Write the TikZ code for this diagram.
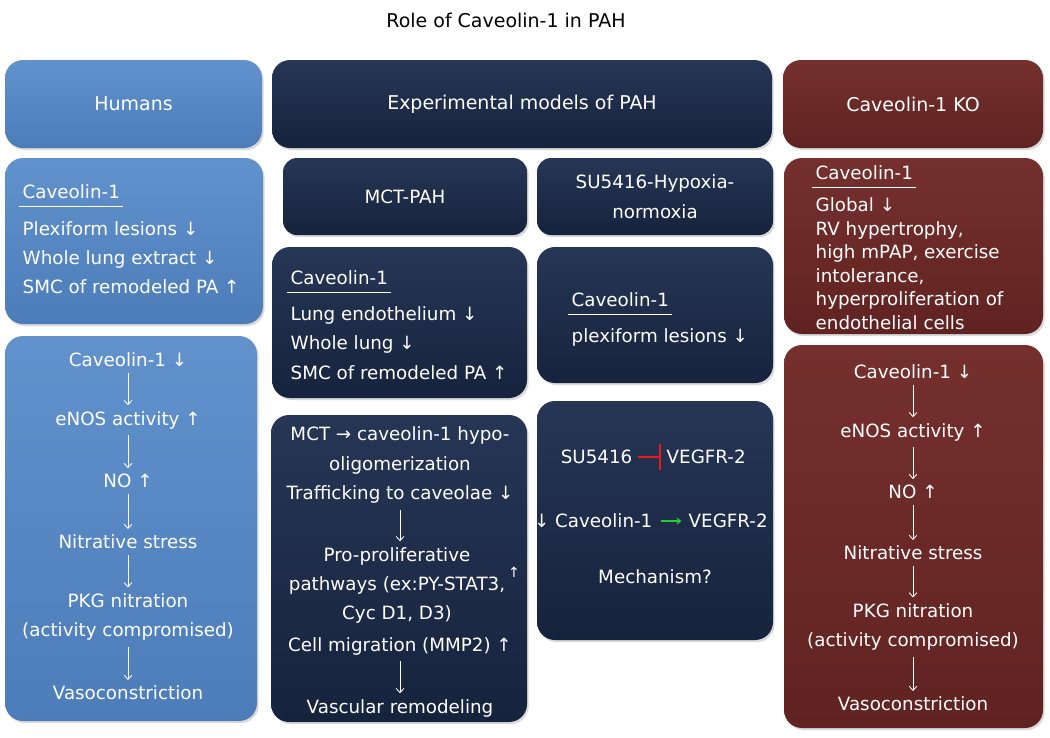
\documentclass[tikz,border=0pt]{standalone}
\usepackage{fontspec}
\setmainfont{DejaVu Sans}
\usetikzlibrary{arrows.meta, positioning, shadows}
\definecolor{humblue}{RGB}{76,125,185}
\definecolor{humtop}{RGB}{98,146,204}
\definecolor{navy}{RGB}{22,35,61}
\definecolor{navytop}{RGB}{38,54,85}
\definecolor{maroon}{RGB}{96,35,33}
\definecolor{maroontop}{RGB}{117,48,46}
\definecolor{inhibit}{RGB}{235,25,25}
\definecolor{activate}{RGB}{40,205,40}
\newlength\pxu
\setlength\pxu{0.025cm}

\begin{document}
\begin{tikzpicture}[x=\pxu, y=-\pxu,
    panel/.style={rounded corners=18\pxu, inner sep=0pt, text=white,
                  drop shadow={shadow xshift=1.2pt, shadow yshift=-1.5pt, opacity=0.3}},
    hpanel/.style={panel, top color=humtop, bottom color=humblue},
    npanel/.style={panel, top color=navytop, bottom color=navy},
    kpanel/.style={panel, top color=maroontop, bottom color=maroon},
    headtxt/.style={font=\fontsize{13.5}{18}\selectfont},
    txt/.style={text=white, inner sep=1pt, font=\fontsize{13}{20.5}\selectfont},
    flow/.style={-{Straight Barb[length=3pt,width=5.5pt]}, white, line width=0.6pt,
                 shorten <=3pt, shorten >=3pt}
]
    \useasboundingbox (0,0) rectangle (1050,737);

    % Title
    \node[font=\fontsize{13.5}{16}\selectfont] (title) at (506,20) {Role of Caveolin-1 in PAH};

    % Column headers
    \node[hpanel, headtxt, minimum width=257\pxu, minimum height=88\pxu] (hhead) at (133.5,104) {Humans};
    \node[npanel, headtxt, minimum width=500\pxu, minimum height=88\pxu] (ehead) at (522,104) {Experimental models of PAH};
    \node[kpanel, headtxt, minimum width=260\pxu, minimum height=88\pxu] (khead) at (913,104) {Caveolin-1 KO};

    % Panels
    \node[hpanel, minimum width=258\pxu, minimum height=166\pxu] (hcavbox) at (134,241) {};
    \node[hpanel, minimum width=252\pxu, minimum height=385\pxu] (hchain) at (131,528.5) {};
    \node[npanel, txt, minimum width=244\pxu, minimum height=77\pxu, rounded corners=14\pxu] (mctbox) at (405,196.5) {MCT-PAH};
    \node[npanel, txt, align=center, minimum width=236\pxu, minimum height=77\pxu, rounded corners=14\pxu,
          font=\fontsize{13}{21}\selectfont] (subox) at (655,196.5) {SU5416-Hypoxia-\\normoxia};
    \node[npanel, minimum width=255\pxu, minimum height=151\pxu] (mcavbox) at (399.5,322.5) {};
    \node[npanel, minimum width=236\pxu, minimum height=136\pxu] (scavbox) at (655,315) {};
    \node[npanel, minimum width=256\pxu, minimum height=307\pxu] (mchain) at (399,568.5) {};
    \node[npanel, minimum width=236\pxu, minimum height=239\pxu] (mechbox) at (655,520.5) {};
    \node[kpanel, minimum width=259\pxu, minimum height=176\pxu] (kcavbox) at (913.5,246) {};
    \node[kpanel, minimum width=259\pxu, minimum height=383\pxu] (kchain) at (913.5,536.5) {};

    % Humans: caveolin-1 findings
    \node[txt, anchor=west] (hcav) at (21,192) {Caveolin-1};
    \draw[white, line width=0.6pt] ([xshift=-1.5pt,yshift=-5.5pt]hcav.base west) -- ([xshift=1pt,yshift=-5.5pt]hcav.base east);
    \node[txt, anchor=west, align=left] (hlist) at (21,258) {Plexiform lesions ↓\\Whole lung extract ↓\\SMC of remodeled PA ↑};

    % Humans: chain
    \node[txt] (h1) at (128,360) {Caveolin-1 ↓};
    \node[txt] (h2) at (128,420) {eNOS activity ↑};
    \node[txt] (h3) at (128,481) {NO ↑};
    \node[txt] (h4) at (128,542) {Nitrative stress};
    \node[txt, align=center, font=\fontsize{13}{21}\selectfont] (h5) at (128,617) {PKG nitration\\(activity compromised)};
    \node[txt] (h6) at (128,693) {Vasoconstriction};
    \draw[flow] (h1) -- (h2);
    \draw[flow] (h2) -- (h3);
    \draw[flow] (h3) -- (h4);
    \draw[flow] (h4) -- (h5);
    \draw[flow] (h5) -- (h6);

    % MCT: caveolin-1 findings
    \node[txt, anchor=west] (mcav) at (289,278) {Caveolin-1};
    \draw[white, line width=0.6pt] ([xshift=-1.5pt,yshift=-5.5pt]mcav.base west) -- ([xshift=1pt,yshift=-5.5pt]mcav.base east);
    \node[txt, anchor=west, align=left, font=\fontsize{13}{21.2}\selectfont] (mlist) at (289,343) {Lung endothelium ↓\\Whole lung ↓\\SMC of remodeled PA ↑};

    % MCT: chain
    \node[txt, align=center, font=\fontsize{13}{21.2}\selectfont] (m1) at (400,465) {MCT → caveolin-1 hypo-\\oligomerization\\Trafficking to caveolae ↓};
    \node[txt, align=center, font=\fontsize{13}{20.6}\selectfont] (m2) at (397,585) {Pro-proliferative\\pathways (ex:PY-STAT3,\\Cyc D1, D3)};
    \node[txt, font=\fontsize{10}{12}\selectfont] (mup) at (514,572) {↑};
    \node[txt] (m3) at (400,646) {Cell migration (MMP2) ↑};
    \node[txt] (m4) at (400,708) {Vascular remodeling};
    \draw[flow] (m1) -- (m1 |- m2.north);
    \draw[flow] (m3) -- (m4);

    % SU5416: caveolin-1 findings
    \node[txt, anchor=west] (scav) at (570,300) {Caveolin-1};
    \draw[white, line width=0.6pt] ([xshift=-1.5pt,yshift=-5.5pt]scav.base west) -- ([xshift=1pt,yshift=-5.5pt]scav.base east);
    \node[txt, anchor=west] (slist) at (570,337) {plexiform lesions ↓};

    % SU5416: mechanism
    \node[txt, anchor=east] (s1) at (634,457) {SU5416};
    \node[txt, anchor=west] (sv1) at (665,457) {VEGFR-2};
    \draw[inhibit, line width=1pt, -{Bar[width=18pt]}, shorten <=3pt, shorten >=3pt] (s1) -- (sv1);
    \node[txt, anchor=east] (s2) at (654,521) {↓ Caveolin-1};
    \node[txt, anchor=west] (sv2) at (687,521) {VEGFR-2};
    \draw[activate, line width=0.8pt, -{Straight Barb[length=2.5pt,width=4pt]}, shorten <=5pt, shorten >=4pt] (s2) -- (sv2);
    \node[txt] (s3) at (655,577) {Mechanism?};

    % Caveolin-1 KO: findings
    \node[txt, anchor=west] (kcav) at (814,173) {Caveolin-1};
    \draw[white, line width=0.6pt] ([xshift=-1.5pt,yshift=-5.5pt]kcav.base west) -- ([xshift=1pt,yshift=-5.5pt]kcav.base east);
    \node[txt, anchor=west, align=left, font=\fontsize{13}{16.7}\selectfont] (klist) at (814,263.5) {Global ↓\\RV hypertrophy,\\high mPAP, exercise\\intolerance,\\hyperproliferation of\\endothelial cells};

    % Caveolin-1 KO: chain
    \node[txt] (k1) at (913,372) {Caveolin-1 ↓};
    \node[txt] (k2) at (913,432) {eNOS activity ↑};
    \node[txt] (k3) at (913,492) {NO ↑};
    \node[txt] (k4) at (913,553) {Nitrative stress};
    \node[txt, align=center, font=\fontsize{13}{21}\selectfont] (k5) at (913,627) {PKG nitration\\(activity compromised)};
    \node[txt] (k6) at (913,704) {Vasoconstriction};
    \draw[flow] (k1) -- (k2);
    \draw[flow] (k2) -- (k3);
    \draw[flow] (k3) -- (k4);
    \draw[flow] (k4) -- (k5);
    \draw[flow] (k5) -- (k6);
\end{tikzpicture}
\end{document}
